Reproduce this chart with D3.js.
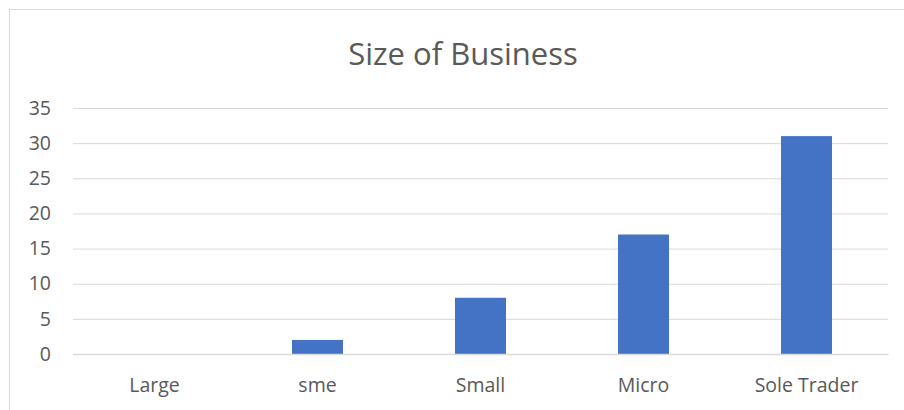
<!DOCTYPE html>
<html>
<head>
<meta charset="utf-8">
<script src="https://cdn.jsdelivr.net/npm/d3@7"></script>
<style>
html,body{margin:0;padding:0;background:#fff;}
svg{display:block;}
text{font-family:"Open Sans",sans-serif;fill:#595959;}
</style>
</head>
<body>
<svg id="chart" width="904" height="410"></svg>
<script>
const categories = ["Large", "sme", "Small", "Micro", "Sole Trader"];
const values = [0, 2, 8, 17, 31];
const yTicks = [0, 5, 10, 15, 20, 25, 30, 35];
const title = "Size of Business";

const svg = d3.select("#chart");
const W = 904, H = 410;
const m = {left: 73, right: 16, top: 108, bottom: 56};

svg.append("rect").attr("x", 9.5).attr("y", 9.5).attr("width", W).attr("height", H)
  .attr("fill", "#fff").attr("stroke", "#d9d9d9").attr("stroke-width", 1);

const x = d3.scaleBand().domain(categories).range([m.left, W - m.right]).paddingInner(0.687).paddingOuter(0.3435);
const y = d3.scaleLinear().domain([0, 35]).range([H - m.bottom, m.top]);

const yAxis = svg.append("g").attr("transform", `translate(${m.left},0)`)
  .call(d3.axisLeft(y).tickValues(yTicks).tickSize(-(W - m.right - m.left)).tickPadding(22));
yAxis.select(".domain").remove();
yAxis.selectAll(".tick line").attr("stroke", "#d9d9d9").attr("stroke-width", 1);
yAxis.selectAll(".tick text").attr("font-size", 19.5).attr("fill", "#595959").attr("font-family", '"Open Sans",sans-serif');

svg.selectAll("rect.bar").data(values).join("rect").attr("class", "bar")
  .attr("x", (d, i) => x(categories[i]))
  .attr("width", x.bandwidth())
  .attr("y", d => y(d))
  .attr("height", d => y(0) - y(d))
  .attr("fill", "#4472C4");

const xAxis = svg.append("g").attr("transform", `translate(0,${y(0)})`)
  .call(d3.axisBottom(x).tickSize(0).tickPadding(24));
xAxis.select(".domain").attr("stroke", "#d9d9d9").attr("stroke-width", 1.5);
xAxis.selectAll(".tick text").attr("font-size", 19.5).attr("fill", "#595959").attr("font-family", '"Open Sans",sans-serif');

svg.append("text").attr("x", 463).attr("y", 65).attr("text-anchor", "middle")
  .attr("font-size", 31).text(title);
</script>
</body>
</html>
